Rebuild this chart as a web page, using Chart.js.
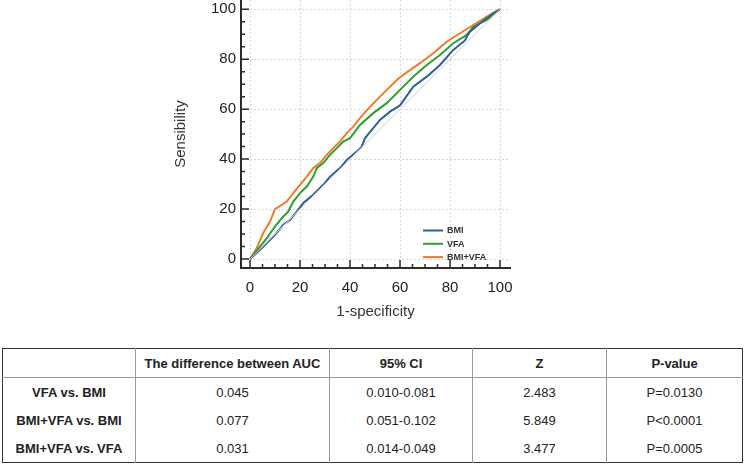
<!DOCTYPE html>
<html>
<head>
<meta charset="utf-8">
<script src="https://cdn.jsdelivr.net/npm/chart.js@4.4.1/dist/chart.umd.min.js"></script>
<style>
  html, body { margin: 0; padding: 0; background: #fff; }
  body { width: 744px; height: 465px; position: relative; overflow: hidden; font-family: 'Liberation Sans', Arial, sans-serif; }
  #wrap { position: absolute; left: 0; top: 0; width: 744px; height: 330px; }
  table { position: absolute; left: 2px; top: 348px; width: 740px; border-collapse: collapse; table-layout: fixed;
          border: 1.5px solid #333; color: #222; font-size: 13px; }
  th, td { text-align: center; padding: 0; }
  th { height: 28px; border-bottom: 1.5px solid #999; }
  td { height: 28px; }
  th + th, td + td { border-left: 1.5px solid #999; }
  td:first-child { font-weight: bold; }
</style>
</head>
<body>
<div id="wrap"><canvas id="roc"></canvas></div>
<table id="cmp"></table>
<script>
// ROC curves (x = 1-specificity, y = sensitivity)
const bmiX = [0, 4, 6.7, 10, 13.3, 16, 18.7, 21.3, 25.3, 29.3, 32, 36, 38.7, 42.7, 44.7, 46, 49.3, 52, 56, 60, 65.3, 70.7, 76, 81.3, 86, 86.7, 88, 92, 97.3, 100];
const bmiY = [0, 3.7, 6.4, 9.7, 13.7, 15.7, 19, 22.4, 25.7, 29.7, 33, 36.4, 39.7, 43, 45, 48.4, 52.4, 55.7, 59, 61.5, 69, 73, 77.7, 83.7, 87.5, 89, 91, 94.4, 98.4, 100];

const vfaX = [0, 4, 6.7, 10, 12.7, 15.3, 17.3, 20, 22.7, 25.3, 26.7, 29.3, 32, 34.7, 37.3, 40, 44, 49.3, 54.7, 60, 65.3, 70.7, 76, 81.3, 86.7, 89.3, 94.7, 100];
const vfaY = [0, 5, 8.4, 13, 16.4, 19, 23, 26.4, 29, 33, 36.4, 38.4, 41.7, 44.4, 47, 48.4, 53.7, 58.4, 62.4, 67.7, 73, 77.7, 81.7, 86.4, 89.7, 93, 95.7, 100];

const comboX = [0, 2.7, 5.3, 8, 10, 14.7, 17.3, 20, 22.7, 25.3, 28, 30.7, 33.3, 36, 38.7, 41.3, 44, 46.7, 50.7, 54.7, 58.7, 61.3, 68, 73.3, 78.7, 84, 89.3, 94.7, 100];
const comboY = [0, 4.4, 10.4, 15, 20, 23, 26.4, 29.7, 33, 36.4, 38.4, 41.7, 44.4, 47, 50.4, 53, 56.4, 59.5, 63.7, 67.7, 71.7, 73.7, 78.4, 82.4, 87, 90.4, 93.7, 97, 100];

const seriesNames = ['BMI', 'VFA', 'BMI+VFA'];
const seriesColors = ['#2f5f9b', '#2ca02c', '#f07a2c'];
const refX = [0, 100];
const refY = [0, 100];

const tickValues = [0, 20, 40, 60, 80, 100];
const minorStep = 5;

// comparison table
const tableHeader = ['', 'The difference between AUC', '95% CI', 'Z', 'P-value'];
const rowLabels = ['VFA vs. BMI', 'BMI+VFA vs. BMI', 'BMI+VFA vs. VFA'];
const aucDiff = ['0.045', '0.077', '0.031'];
const ci95 = ['0.010-0.081', '0.051-0.102', '0.014-0.049'];
const zValues = ['2.483', '5.849', '3.477'];
const pValues = ['P=0.0130', 'P<0.0001', 'P=0.0005'];
const colWidths = [133, 194, 143, 134, 136];

const toPoints = (xs, ys) => xs.map((x, i) => ({ x: x, y: ys[i] }));

// axis ticks drawn inward + legend in the lower right corner
const rocDecor = {
    id: 'rocDecor',
    afterDraw(chart) {
        const { ctx, chartArea, scales: { x, y } } = chart;
        ctx.save();
        ctx.strokeStyle = '#2b2b2b';
        ctx.lineWidth = 1.5;
        for (let v = 0; v <= 100; v += minorStep) {
            const len = v % 20 === 0 ? 8 : 4;
            const px = x.getPixelForValue(v);
            const py = y.getPixelForValue(v);
            ctx.beginPath();
            ctx.moveTo(px, chartArea.bottom);
            ctx.lineTo(px, chartArea.bottom - len);
            ctx.moveTo(chartArea.left, py);
            ctx.lineTo(chartArea.left + len, py);
            ctx.stroke();
        }

        // legend
        ctx.font = 'bold 9px "Liberation Sans", Arial, sans-serif';
        ctx.textBaseline = 'middle';
        ctx.fillStyle = '#333';
        seriesNames.forEach((name, i) => {
            const ly = chartArea.bottom - 37.5 + i * 13.3;
            ctx.strokeStyle = seriesColors[i];
            ctx.lineWidth = 2;
            ctx.beginPath();
            ctx.moveTo(chartArea.right - 87, ly);
            ctx.lineTo(chartArea.right - 67, ly);
            ctx.stroke();
            ctx.fillText(name, chartArea.right - 63, ly + 0.5);
        });
        ctx.restore();
    }
};

const axisFont = { family: "'Liberation Sans', Arial, sans-serif", size: 15 };

new Chart(document.getElementById('roc'), {
    type: 'scatter',
    data: {
        datasets: [
            { data: toPoints(refX, refY), borderColor: '#cfcfcf', borderWidth: 1 },
            { label: seriesNames[0], data: toPoints(bmiX, bmiY), borderColor: seriesColors[0], borderWidth: 2 },
            { label: seriesNames[1], data: toPoints(vfaX, vfaY), borderColor: seriesColors[1], borderWidth: 2 },
            { label: seriesNames[2], data: toPoints(comboX, comboY), borderColor: seriesColors[2], borderWidth: 2 }
        ]
    },
    options: {
        responsive: true,
        maintainAspectRatio: false,
        animation: false,
        showLine: true,
        elements: { point: { radius: 0 }, line: { tension: 0 } },
        layout: { padding: { left: 168, right: 234, top: 0, bottom: 0 } },
        plugins: { legend: { display: false }, tooltip: { enabled: false } },
        scales: {
            x: {
                type: 'linear',
                min: -3.6,
                max: 104,
                afterBuildTicks: scale => { scale.ticks = tickValues.map(v => ({ value: v })); },
                afterFit: scale => { scale.height = 62; scale.paddingLeft = 0; scale.paddingRight = 0; },
                grid: { color: '#d8d8d8', drawTicks: false },
                border: { color: '#2b2b2b', width: 2, dash: [2, 2] },
                ticks: { color: '#222', font: axisFont, padding: 11, maxRotation: 0 },
                title: { display: true, text: '1-specificity', color: '#333', font: axisFont, padding: { top: 4, bottom: 9 } }
            },
            y: {
                type: 'linear',
                min: -3.6,
                max: 103.7,
                afterBuildTicks: scale => { scale.ticks = tickValues.map(v => ({ value: v })); },
                afterFit: scale => { scale.width = 73; scale.paddingTop = 0; scale.paddingBottom = 0; },
                grid: { color: '#d8d8d8', drawTicks: false },
                border: { color: '#2b2b2b', width: 2, dash: [2, 2] },
                ticks: { color: '#222', font: axisFont, padding: 5 },
                title: { display: true, text: 'Sensibility', color: '#333', font: axisFont, padding: { top: 4, bottom: 4 } }
            }
        }
    },
    plugins: [rocDecor]
});

// build the table
const table = document.getElementById('cmp');
const cg = document.createElement('colgroup');
colWidths.forEach(w => { const c = document.createElement('col'); c.style.width = w + 'px'; cg.appendChild(c); });
table.appendChild(cg);
const hr = document.createElement('tr');
tableHeader.forEach(t => { const th = document.createElement('th'); th.textContent = t; hr.appendChild(th); });
table.appendChild(hr);
rowLabels.forEach((lab, i) => {
    const tr = document.createElement('tr');
    [lab, aucDiff[i], ci95[i], zValues[i], pValues[i]].forEach(t => {
        const td = document.createElement('td');
        td.textContent = t;
        tr.appendChild(td);
    });
    table.appendChild(tr);
});
</script>
</body>
</html>
